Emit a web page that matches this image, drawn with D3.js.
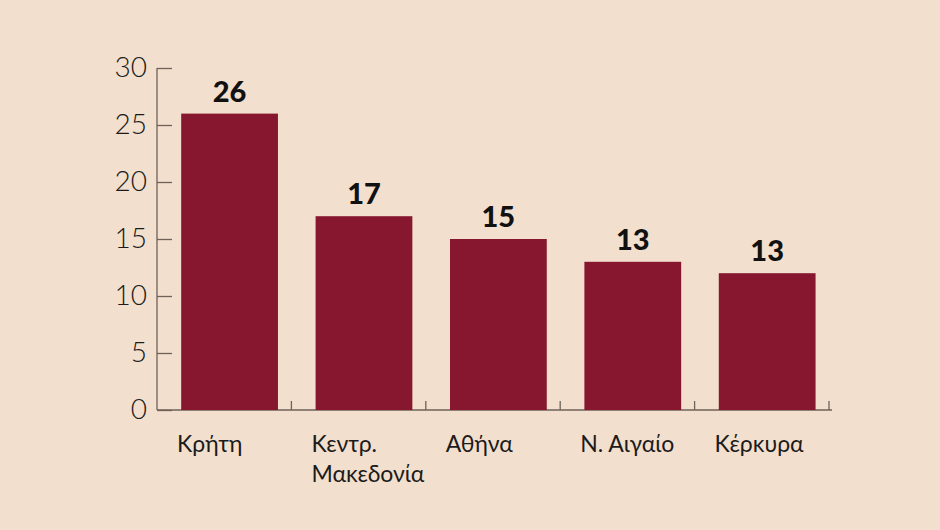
<!DOCTYPE html>
<html>
<head>
<meta charset="utf-8">
<script src="https://cdn.jsdelivr.net/npm/d3@7"></script>
<style>
  html, body { margin: 0; padding: 0; background: #f3dfcd; }
  svg { display: block; }
  .axis path, .axis line { stroke: #6e6259; stroke-width: 1.3; }
  .axis text { font-family: "Lato", "Noto Sans", sans-serif; fill: #1b1b1b; }
</style>
</head>
<body>
<svg id="chart" width="940" height="530"></svg>
<script>
var regions = ["Κρήτη", "Κεντρ. Μακεδονία", "Αθήνα", "Ν. Αιγαίο", "Κέρκυρα"];
var counts = [26, 17, 15, 13, 12];
var countLabels = ["26", "17", "15", "13", "13"];
var yTicks = [0, 5, 10, 15, 20, 25, 30];

function drawChart(svg) {
    var left = 157, right = 829, top = 68, bottom = 410;

    var data = regions.map(function(r, i) {
        return { region: r, count: counts[i], label: countLabels[i] };
    });

    var x = d3.scaleBand().domain(regions).range([ left, right ]).padding(0);
    var y = d3.scaleLinear().domain([ 0, 30 ]).range([ bottom, top ]);
    var bw = x.bandwidth();

    // y axis, ticks point inward
    var yAxis = svg.append("g")
        .attr("class", "axis axis--y")
        .attr("transform", "translate(" + left + ",0)")
        .call(d3.axisRight(y).tickValues(yTicks).tickSize(15).tickSizeOuter(0));
    yAxis.select(".domain").attr("d", "M0," + top + "V" + bottom);
    yAxis.selectAll("text")
        .attr("x", -10)
        .attr("text-anchor", "end")
        .style("font-size", "28px")
        .style("font-weight", 300);

    // x axis line with small upward ticks at band edges
    var xg = svg.append("g").attr("class", "axis axis--x");
    xg.append("line")
        .attr("x1", left).attr("x2", right + 3)
        .attr("y1", y(0)).attr("y2", y(0));
    xg.selectAll(".edge")
        .data(regions)
        .enter().append("line")
        .attr("class", "edge")
        .attr("x1", function(d) { return x(d) + bw; })
        .attr("x2", function(d) { return x(d) + bw; })
        .attr("y1", y(0)).attr("y2", y(0) - 9);

    svg.selectAll(".bar")
        .data(data)
        .enter().append("rect")
        .attr("class", "bar")
        .attr("x", function(d) { return x(d.region) + bw * 0.18; })
        .attr("y", function(d) { return y(d.count); })
        .attr("width", bw * 0.72)
        .attr("height", function(d) { return y(0) - y(d.count); })
        .attr("fill", "#86172f");

    svg.selectAll(".value")
        .data(data)
        .enter().append("text")
        .attr("class", "value")
        .attr("x", function(d) { return x(d.region) + bw * 0.54; })
        .attr("y", function(d) { return y(d.count) - 12; })
        .attr("text-anchor", "middle")
        .style("font-family", "Lato, 'Noto Sans', sans-serif")
        .style("font-weight", 900)
        .style("font-size", "29px")
        .style("fill", "#111")
        .text(function(d) { return d.label; });

    var cat = svg.selectAll(".cat")
        .data(data)
        .enter().append("text")
        .attr("class", "cat")
        .attr("y", 452)
        .style("font-family", "Lato, 'Noto Sans', sans-serif")
        .style("font-size", "23px")
        .style("fill", "#1b1b1b");
    cat.each(function(d) {
        var parts = d.region.split(" ");
        var lines = d.region.indexOf("Κεντρ.") === 0 ? [ parts[0], parts.slice(1).join(" ") ] : [ d.region ];
        var t = d3.select(this);
        lines.forEach(function(l, i) {
            t.append("tspan")
                .attr("x", x(d.region) + 20)
                .attr("dy", i === 0 ? 0 : "1.3em")
                .text(l);
        });
    });
}

drawChart(d3.select("#chart"));
</script>
</body>
</html>
